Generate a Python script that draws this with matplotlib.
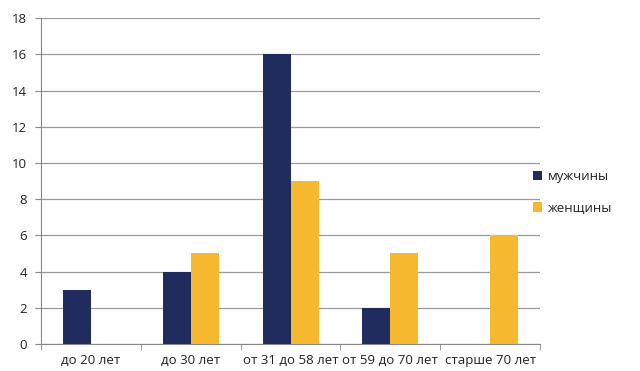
import matplotlib.pyplot as plt
import numpy as np

plt.rcParams['font.family'] = ['Open Sans', 'DejaVu Sans']

# данные
categories = ["до 20 лет", "до 30 лет", "от 31 до 58 лет", "от 59 до 70 лет", "старше 70 лет"]
men = [3, 4, 16, 2, 0]
women = [0, 5, 9, 5, 6]
yticks = [0, 2, 4, 6, 8, 10, 12, 14, 16, 18]

color_men = "#212c5e"
color_women = "#f5b82e"

fig = plt.figure(figsize=(6.4, 3.71), dpi=100)
ax = fig.add_axes([0.064, 0.073, 0.78, 0.878])

x = np.arange(len(categories))
w = 0.28
ax.bar(x - w / 2, men, w, color=color_men, label="мужчины", zorder=3)
ax.bar(x + w / 2, women, w, color=color_women, label="женщины", zorder=3)

ax.set_xlim(-0.5, len(categories) - 0.5)
ax.set_ylim(0, 18)
ax.set_yticks(yticks)
ax.tick_params(axis="y", labelsize=9.5, length=4, color="#888888", pad=6,
               labelcolor="#222222")
ax.yaxis.grid(True, color="#9a9a9a", linewidth=0.9, zorder=0)

# подписи категорий по центру, засечки на границах
ax.set_xticks(x)
ax.set_xticklabels(categories, fontsize=9.5, color="#222222")
ax.tick_params(axis="x", length=0, pad=7)
ax.set_xticks(np.arange(-0.5, len(categories)), minor=True)
ax.tick_params(axis="x", which="minor", length=4, color="#888888")

for s in ["top", "right"]:
    ax.spines[s].set_visible(False)
ax.spines["left"].set_color("#888888")
ax.spines["bottom"].set_color("#888888")

leg = ax.legend(loc="center left", bbox_to_anchor=(0.962, 0.465), frameon=False,
                fontsize=9.5, handlelength=0.7, handleheight=0.7, labelspacing=1.4,
                handletextpad=0.4)
for t in leg.get_texts():
    t.set_color("#222222")

fig.savefig("out.png", dpi=100)
